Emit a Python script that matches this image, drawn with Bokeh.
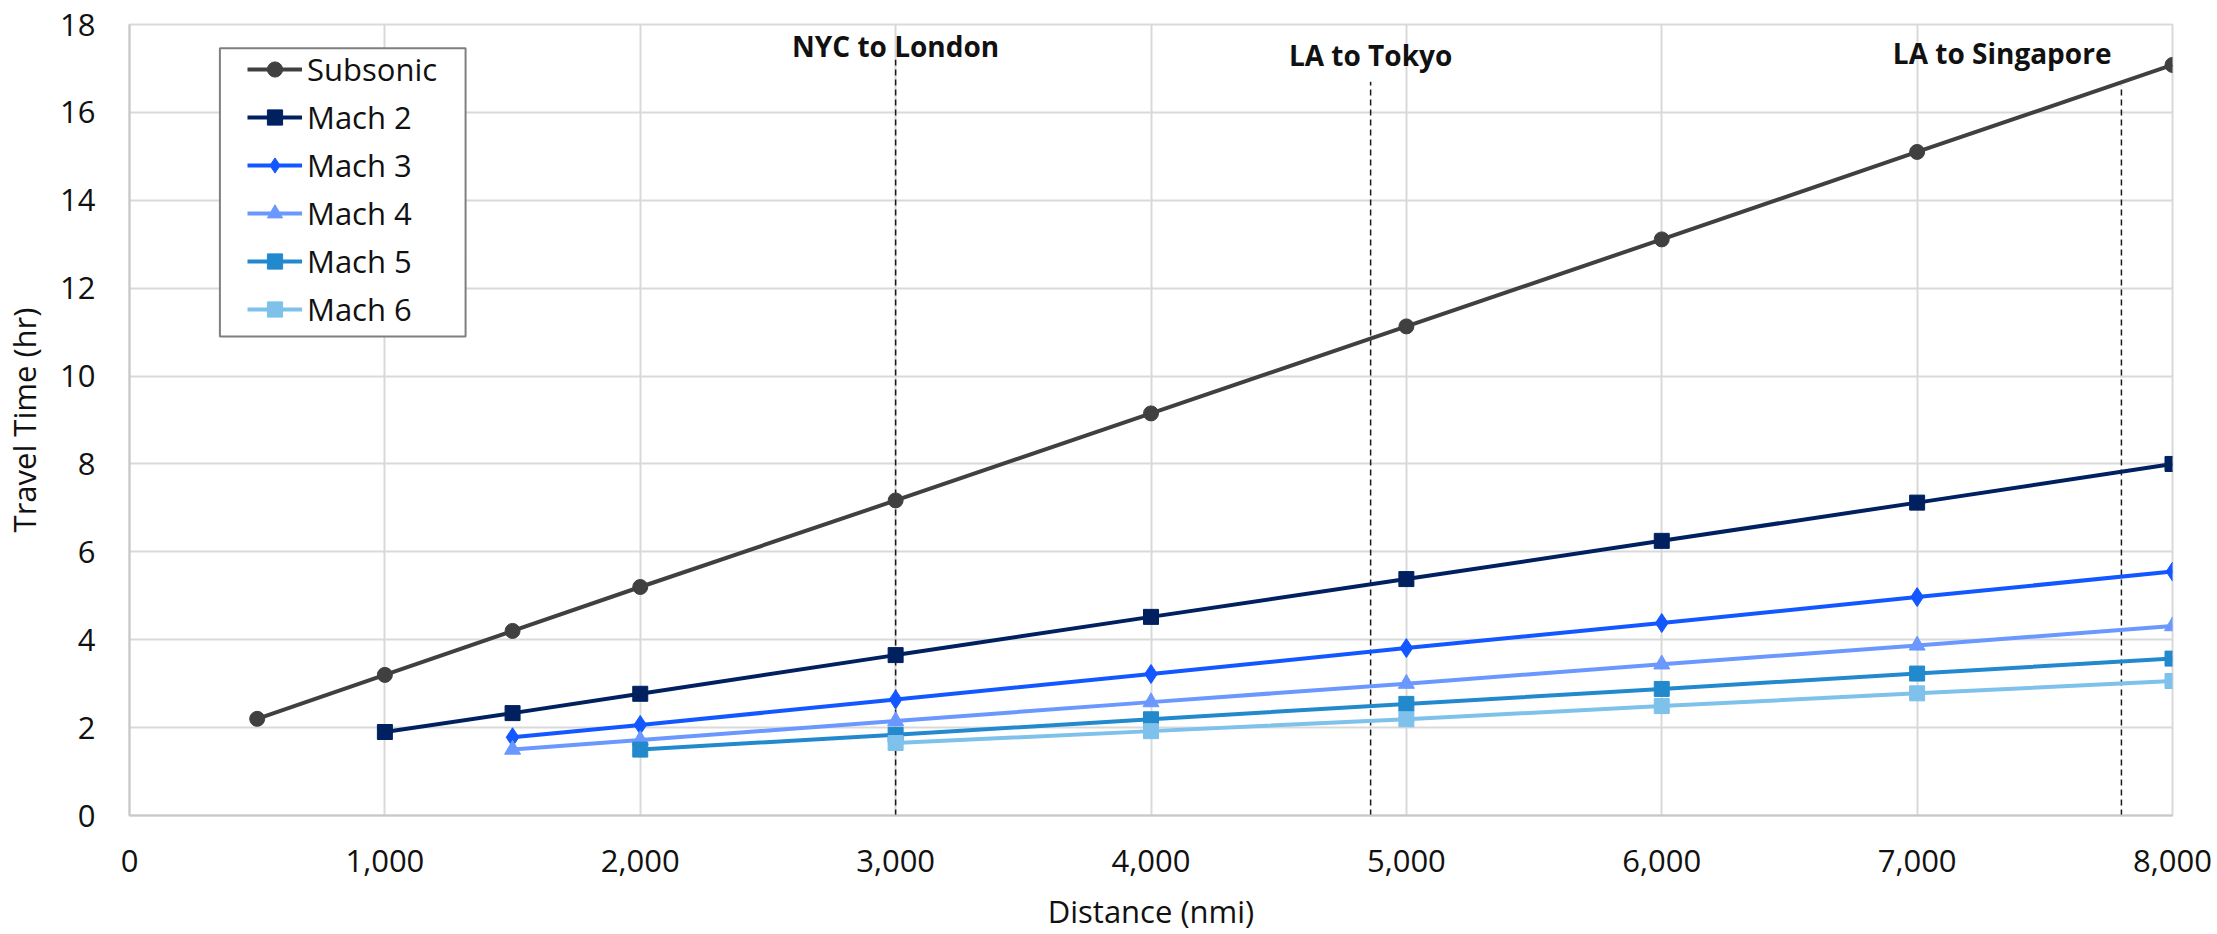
from bokeh.plotting import figure
from bokeh.models import (Legend, LegendItem, FixedTicker, NumeralTickFormatter, Range1d,
                          ColumnDataSource, BoxAnnotation)
from bokeh.core.properties import value
from bokeh.embed import file_html
from bokeh.resources import INLINE

# ---------------- data ----------------
dist_subsonic = [500, 1000, 1500, 2000, 3000, 4000, 5000, 6000, 7000, 8000]
subsonic = [2.2, 3.2, 4.2, 5.2, 7.17, 9.15, 11.13, 13.11, 15.1, 17.08]

dist_mach2 = [1000, 1500, 2000, 3000, 4000, 5000, 6000, 7000, 8000]
mach2 = [1.9, 2.33, 2.77, 3.65, 4.52, 5.38, 6.25, 7.12, 8.0]

dist_mach3 = [1500, 2000, 3000, 4000, 5000, 6000, 7000, 8000]
mach3 = [1.78, 2.06, 2.64, 3.22, 3.81, 4.38, 4.97, 5.55]

dist_mach4 = [1500, 2000, 3000, 4000, 5000, 6000, 7000, 8000]
mach4 = [1.5, 1.72, 2.15, 2.58, 3.0, 3.44, 3.87, 4.31]

dist_mach5 = [2000, 3000, 4000, 5000, 6000, 7000, 8000]
mach5 = [1.5, 1.84, 2.19, 2.54, 2.88, 3.23, 3.57]

dist_mach6 = [3000, 4000, 5000, 6000, 7000, 8000]
mach6 = [1.65, 1.92, 2.19, 2.49, 2.78, 3.06]

series_names = ["Subsonic", "Mach 2", "Mach 3", "Mach 4", "Mach 5", "Mach 6"]

route_names = ["NYC to London", "LA to Tokyo", "LA to Singapore"]
route_nmi = [3000, 4860, 7800]
route_line_top = [17.2, 16.7, 16.62]
route_label_y = [17.5, 17.3, 17.35]

x_ticks = [0, 1000, 2000, 3000, 4000, 5000, 6000, 7000, 8000]
y_ticks = [0, 2, 4, 6, 8, 10, 12, 14, 16, 18]

# ---------------- styles ----------------
FONT = "Open Sans"
colors = ["#404040", "#002060", "#1257FF", "#6A98FF", "#2389CD", "#7EC1EA"]
markers = ["circle", "square", "diamond", "triangle", "square", "square"]
msizes = [15, 15, 19, 16, 15, 15]

p = figure(width=2217, height=934, output_backend="svg", toolbar_location=None,
           x_range=Range1d(0, 8000), y_range=Range1d(0, 18),
           min_border_left=123, min_border_right=45, min_border_top=24, min_border_bottom=116)

p.background_fill_color = "white"
p.border_fill_color = "white"
p.outline_line_color = "#d9d9d9"
p.outline_line_width = 2

p.xgrid.grid_line_color = "#d9d9d9"
p.ygrid.grid_line_color = "#d9d9d9"
p.xgrid.grid_line_width = 2
p.ygrid.grid_line_width = 2

p.xaxis.ticker = FixedTicker(ticks=x_ticks)
p.yaxis.ticker = FixedTicker(ticks=y_ticks)
p.xaxis.formatter = NumeralTickFormatter(format="0,0")

for ax in (p.xaxis[0], p.yaxis[0]):
    ax.axis_line_color = "#c8c8c8"
    ax.axis_line_width = 2
    ax.major_tick_line_color = None
    ax.minor_tick_line_color = None
    ax.major_tick_out = 0
    ax.major_tick_in = 0
    ax.major_label_text_font = FONT
    ax.major_label_text_font_size = "31px"
    ax.major_label_text_color = "#111111"
    ax.axis_label_text_font = FONT
    ax.axis_label_text_font_size = "31px"
    ax.axis_label_text_font_style = "normal"
    ax.axis_label_text_color = "#111111"

p.xaxis.axis_label = "Distance (nmi)"
p.yaxis.axis_label = "Travel Time (hr)"
p.xaxis.major_label_standoff = 34
p.xaxis.axis_label_standoff = 15
p.yaxis.major_label_standoff = 34
p.yaxis.axis_label_standoff = 12

# route markers (dashed verticals)
route_src = ColumnDataSource(dict(x=route_nmi, top=route_line_top, base=[0] * 3))
p.segment(x0="x", y0="base", x1="x", y1="top", source=route_src,
          line_color="#1a1a1a", line_width=1.5, line_dash="6 4")

p.text(x=route_nmi[:2], y=route_label_y[:2], text=route_names[:2],
       text_font=value(FONT), text_font_style="bold", text_font_size="28px",
       text_align="center", text_baseline="middle", text_color="#111111")
p.text(x=route_nmi[2:], y=route_label_y[2:], text=route_names[2:],
       text_font=value(FONT), text_font_style="bold", text_font_size="28px",
       text_align="right", text_baseline="middle", text_color="#111111", x_offset=-10)

xs = [dist_subsonic, dist_mach2, dist_mach3, dist_mach4, dist_mach5, dist_mach6]
ys = [subsonic, mach2, mach3, mach4, mach5, mach6]

items = []
for name, x, y, c, m, s in zip(series_names, xs, ys, colors, markers, msizes):
    src = ColumnDataSource(dict(x=x, y=y))
    lr = p.line("x", "y", source=src, line_color=c, line_width=4)
    sr = p.scatter("x", "y", source=src, marker=m, size=s, fill_color=c, line_color=c)
    items.append(LegendItem(label=name, renderers=[lr, sr]))

# legend frame (white box with grey border)
legend_box = BoxAnnotation(left=354, right=1316, top=17.46, bottom=10.9,
                           fill_color="white", fill_alpha=1.0,
                           line_color="#7f7f7f", line_width=2, line_alpha=1.0)
p.add_layout(legend_box)

legend = Legend(items=items, location=(118, 485),
                label_text_font=FONT, label_text_font_size="31px", label_text_color="#111111",
                glyph_width=55, glyph_height=38, label_standoff=5,
                spacing=6, padding=0, margin=0,
                border_line_color=None, background_fill_alpha=0.0)
p.add_layout(legend, "center")

open("out.html", "w").write(file_html(p, INLINE))
